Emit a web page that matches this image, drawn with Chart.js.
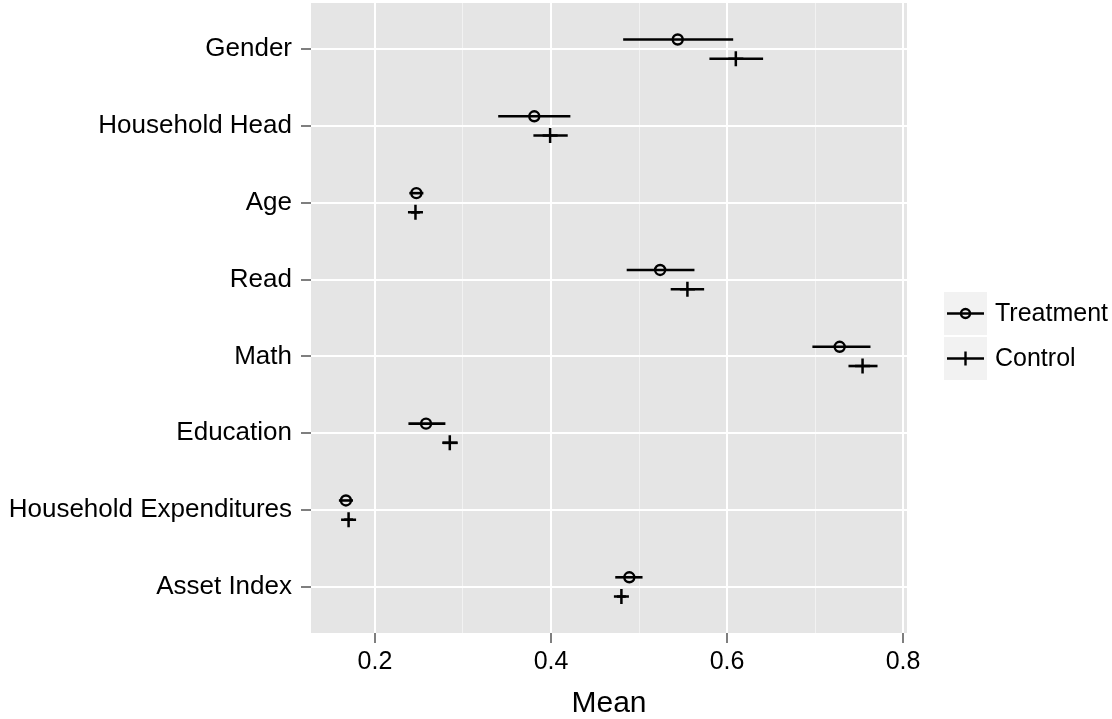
<!DOCTYPE html>
<html>
<head>
<meta charset="utf-8">
<script src="https://cdn.jsdelivr.net/npm/chart.js@4"></script>
<style>
  body { margin: 0; background: #ffffff; overflow: hidden; }
  #chart { display: block; margin-top: -7px; }
</style>
</head>
<body>
<canvas id="chart" width="1112" height="726"></canvas>
<script>
// values
const categories = ['Gender', 'Household Head', 'Age', 'Read', 'Math', 'Education', 'Household Expenditures', 'Asset Index'];
const treatMean = [0.544, 0.381, 0.247, 0.524, 0.728, 0.258, 0.167, 0.489];
const treatLow  = [0.482, 0.340, 0.239, 0.486, 0.697, 0.238, 0.159, 0.473];
const treatHigh = [0.607, 0.422, 0.255, 0.563, 0.763, 0.280, 0.175, 0.504];
const ctrlMean  = [0.610, 0.399, 0.246, 0.555, 0.754, 0.285, 0.170, 0.480];
const ctrlLow   = [0.580, 0.380, 0.241, 0.536, 0.738, 0.277, 0.165, 0.475];
const ctrlHigh  = [0.641, 0.419, 0.251, 0.574, 0.771, 0.294, 0.175, 0.485];
const seriesNames = ['Treatment', 'Control'];
const xGridValues = [0.2, 0.3, 0.4, 0.5, 0.6, 0.7, 0.8];
const xTickLabels = ['0.2', '', '0.4', '', '0.6', '', '0.8'];

const dodge = 0.125;
const FONT = '"Liberation Sans", Arial, sans-serif';

function points(means, shift) {
  return means.map((m, i) => ({ x: m, y: i + shift }));
}

const isMajor = v => xTickLabels[xGridValues.indexOf(v)] !== '';

// grey panel behind the grid
const panelPlugin = {
  id: 'panel',
  beforeDraw(chart) {
    const { ctx, chartArea: a } = chart;
    ctx.save();
    ctx.fillStyle = '#e5e5e5';
    ctx.fillRect(a.left, a.top, a.right - a.left, a.bottom - a.top);
    ctx.restore();
  }
};

// horizontal error bars, from the data arrays through the scales
const errorBarPlugin = {
  id: 'errorBars',
  beforeDatasetsDraw(chart) {
    const { ctx, scales: { x, y } } = chart;
    const bars = [[treatLow, treatHigh, -dodge], [ctrlLow, ctrlHigh, dodge]];
    ctx.save();
    ctx.strokeStyle = '#000000';
    ctx.lineWidth = 2.6;
    bars.forEach(([lo, hi, shift]) => {
      lo.forEach((v, i) => {
        const py = y.getPixelForValue(i + shift);
        ctx.beginPath();
        ctx.moveTo(x.getPixelForValue(v), py);
        ctx.lineTo(x.getPixelForValue(hi[i]), py);
        ctx.stroke();
      });
    });
    ctx.restore();
  }
};

// ggplot style legend keys on the right
const legendPlugin = {
  id: 'ggLegend',
  afterDraw(chart) {
    const { ctx, chartArea: a } = chart;
    const size = 43;
    const x0 = a.right + 37;
    let y0 = a.top + 289;
    ctx.save();
    seriesNames.forEach((name, k) => {
      ctx.fillStyle = '#f2f2f2';
      ctx.fillRect(x0, y0, size, size);
      const cy = y0 + size / 2, cx = x0 + size / 2;
      ctx.strokeStyle = '#000000';
      ctx.lineWidth = 2.6;
      ctx.beginPath();
      ctx.moveTo(x0 + 3, cy);
      ctx.lineTo(x0 + size - 3, cy);
      ctx.stroke();
      ctx.lineWidth = 2.4;
      ctx.beginPath();
      if (k === 0) {
        ctx.arc(cx, cy, 4.5, 0, Math.PI * 2);
      } else {
        ctx.moveTo(cx, cy - 7);
        ctx.lineTo(cx, cy + 7);
      }
      ctx.stroke();
      ctx.fillStyle = '#000000';
      ctx.font = '25px ' + FONT;
      ctx.textBaseline = 'middle';
      ctx.textAlign = 'left';
      ctx.fillText(name, x0 + size + 8, cy + 1);
      y0 += size + 2;
    });
    ctx.restore();
  }
};

new Chart(document.getElementById('chart'), {
  type: 'scatter',
  data: {
    datasets: [{
      label: seriesNames[0],
      data: points(treatMean, -dodge),
      pointStyle: 'circle',
      radius: 5,
      borderWidth: 2.4,
      borderColor: '#000000',
      backgroundColor: 'rgba(0,0,0,0)',
    }, {
      label: seriesNames[1],
      data: points(ctrlMean, dodge),
      pointStyle: 'cross',
      radius: 7.5,
      borderWidth: 2.5,
      borderColor: '#000000',
      backgroundColor: 'rgba(0,0,0,0)',
    }],
  },
  options: {
    responsive: false,
    animation: false,
    layout: { padding: { top: 3, right: 205, left: 0, bottom: 0 } },
    plugins: {
      legend: { display: false },
      tooltip: { enabled: false },
    },
    scales: {
      x: {
        type: 'linear',
        min: 0.1273,
        max: 0.8045,
        afterBuildTicks: scale => { scale.ticks = xGridValues.map(v => ({ value: v })); },
        afterFit: scale => {
          scale.height = 86;
          scale.paddingLeft = 0;
          scale.paddingRight = 0;
        },
        ticks: {
          autoSkip: false,
          maxRotation: 0,
          padding: 4,
          color: '#000000',
          font: { family: FONT, size: 25 },
          callback: v => xTickLabels[xGridValues.indexOf(v)] ?? '',
        },
        grid: {
          color: c => isMajor(c.tick.value) ? '#ffffff' : '#f2f2f2',
          lineWidth: c => isMajor(c.tick.value) ? 2 : 1,
          tickColor: c => isMajor(c.tick.value) ? '#7f7f7f' : 'rgba(0,0,0,0)',
          tickWidth: 2,
          tickLength: 10,
        },
        border: { display: false },
        title: {
          display: true,
          text: 'Mean',
          color: '#000000',
          font: { family: FONT, size: 30, lineHeight: 1 },
          padding: { top: 0, bottom: 0 },
        },
      },
      y: {
        type: 'linear',
        reverse: true,
        min: -0.6,
        max: categories.length - 0.4,
        afterBuildTicks: scale => { scale.ticks = categories.map((c, i) => ({ value: i })); },
        afterFit: scale => {
          scale.width = 311;
          scale.paddingTop = 0;
          scale.paddingBottom = 0;
        },
        ticks: {
          autoSkip: false,
          padding: 9,
          color: '#000000',
          font: { family: FONT, size: 26 },
          callback: v => categories[v],
        },
        grid: {
          color: '#ffffff',
          lineWidth: 2,
          tickColor: '#7f7f7f',
          tickWidth: 2,
          tickLength: 10,
        },
        border: { display: false },
      },
    },
  },
  plugins: [panelPlugin, errorBarPlugin, legendPlugin],
});
</script>
</body>
</html>
